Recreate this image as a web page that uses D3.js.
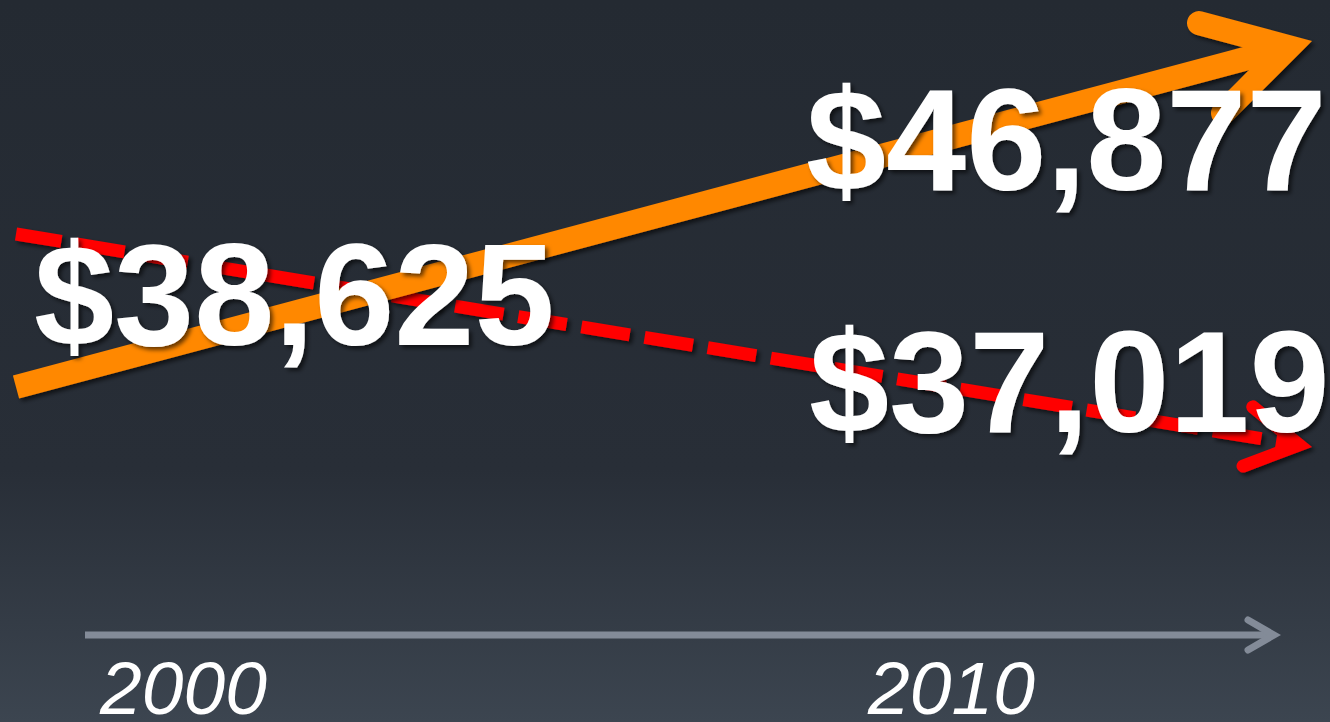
<!DOCTYPE html>
<html>
<head>
<meta charset="utf-8">
<script src="https://cdn.jsdelivr.net/npm/d3@7"></script>
<style>
  html, body { margin: 0; padding: 0; background: #252b33; }
  svg { display: block; }
</style>
</head>
<body>
<div id="chart"></div>
<script>
// values
var years = [2000, 2010];
var nominal = [38625, 46877];   // orange, solid
var real = [38625, 37019];      // red, dashed
var labels = ["$38,625", "$46,877", "$37,019"];
var yearLabels = ["2000", "2010"];

var width = 1330,
    height = 722;

var svg = d3.select("#chart").append("svg")
  .attr("width", width)
  .attr("height", height);

var defs = svg.append("defs");

var grad = defs.append("linearGradient")
  .attr("id", "bg")
  .attr("x1", 0).attr("y1", 0)
  .attr("x2", 0).attr("y2", 1);
grad.append("stop").attr("offset", "0%").attr("stop-color", "#242a32");
grad.append("stop").attr("offset", "65%").attr("stop-color", "#282e37");
grad.append("stop").attr("offset", "100%").attr("stop-color", "#3c4550");

var shadow = defs.append("filter")
  .attr("id", "shadow")
  .attr("x", "-10%").attr("y", "-20%")
  .attr("width", "130%").attr("height", "150%");
shadow.append("feDropShadow")
  .attr("dx", 3).attr("dy", 3)
  .attr("stdDeviation", 2)
  .attr("flood-color", "#000")
  .attr("flood-opacity", 0.6);

svg.append("rect")
  .attr("width", width)
  .attr("height", height)
  .attr("fill", "url(#bg)");

// the two trends are drawn illustratively, each on its own scale
var xScale = d3.scaleLinear()
  .domain(d3.extent(years))
  .range([16, 1312]);

var yNominal = d3.scaleLinear()
  .domain([nominal[0], nominal[1]])
  .range([387, 41]);

var yReal = d3.scaleLinear()
  .domain([real[0], real[1]])
  .range([234, 447]);

var SPREAD = 30 * Math.PI / 180;

// centre of the arrow tip, pulled back so the mitred point lands on the data point
var tipCentre = function(x0, y0, x1, y1, w) {
  var d = Math.hypot(x1 - x0, y1 - y0);
  var back = (w / 2) / Math.sin(SPREAD);
  return [x1 - (x1 - x0) / d * back, y1 - (y1 - y0) / d * back];
};

// open arrowhead (two wings meeting at the tip)
var arrowHead = function(x0, y0, x1, y1, w, len) {
  var t = tipCentre(x0, y0, x1, y1, w);
  var ang = Math.atan2(y0 - y1, x0 - x1);
  var a = [t[0] + len * Math.cos(ang + SPREAD), t[1] + len * Math.sin(ang + SPREAD)];
  var b = [t[0] + len * Math.cos(ang - SPREAD), t[1] + len * Math.sin(ang - SPREAD)];
  return "M" + a[0] + "," + a[1] + "L" + t[0] + "," + t[1] + "L" + b[0] + "," + b[1];
};

var shaft = function(x0, y0, x1, y1, w) {
  var t = tipCentre(x0, y0, x1, y1, w);
  var d = Math.hypot(x1 - x0, y1 - y0);
  return [[x0, y0], [t[0] - (x1 - x0) / d * w * 0.5, t[1] - (y1 - y0) / d * w * 0.5]];
};

var drawTrend = function(values, yScale, color, w, len, dash, offset) {
  var g = svg.append("g").attr("filter", "url(#shadow)");
  var pts = years.map(function(yr, i) { return [xScale(yr), yScale(values[i])]; });
  var p0 = pts[0], p1 = pts[pts.length - 1];
  g.append("path")
    .attr("d", d3.line()(shaft(p0[0], p0[1], p1[0], p1[1], w)))
    .attr("fill", "none")
    .attr("stroke", color)
    .attr("stroke-width", w)
    .attr("stroke-linecap", "butt")
    .attr("stroke-dasharray", dash)
    .attr("stroke-dashoffset", offset);
  g.append("path")
    .attr("d", arrowHead(p0[0], p0[1], p1[0], p1[1], w, len))
    .attr("fill", "none")
    .attr("stroke", color)
    .attr("stroke-width", w)
    .attr("stroke-linecap", "round")
    .attr("stroke-linejoin", "miter")
    .attr("stroke-miterlimit", 10);
};

drawTrend(real, yReal, "#ff0000", 13, 60, "49,15", 3);
drawTrend(nominal, yNominal, "#ff8800", 24, 93, null, 0);

// time axis
var axisX = d3.scaleLinear()
  .domain(d3.extent(years))
  .range([85, 1281]);
var axisY = 635;
var axisG = svg.append("g");
axisG.append("path")
  .attr("d", d3.line()(shaft(axisX(years[0]), axisY, axisX(years[1]), axisY, 7)))
  .attr("stroke", "#838b98")
  .attr("stroke-width", 7);
axisG.append("path")
  .attr("d", arrowHead(axisX(years[0]), axisY, axisX(years[1]), axisY, 7, 30))
  .attr("fill", "none")
  .attr("stroke", "#838b98")
  .attr("stroke-width", 7)
  .attr("stroke-linecap", "round")
  .attr("stroke-linejoin", "miter");

var yearX = d3.scaleOrdinal()
  .domain(yearLabels)
  .range([100, 868]);

svg.selectAll(".year")
  .data(yearLabels)
  .enter().append("text")
  .attr("class", "year")
  .attr("x", function(d) { return yearX(d); })
  .attr("y", 714)
  .style("font-family", "'Liberation Sans', Arial, sans-serif")
  .style("font-style", "italic")
  .style("font-size", "75px")
  .style("fill", "#ffffff")
  .text(function(d) { return d; });

// value labels
var labelPos = [
  { x: 34, y: 345 },
  { x: 806, y: 190 },
  { x: 809, y: 432 }
];

svg.selectAll(".value")
  .data(labels)
  .enter().append("text")
  .attr("class", "value")
  .attr("x", function(d, i) { return labelPos[i].x; })
  .attr("y", function(d, i) { return labelPos[i].y; })
  .attr("filter", "url(#shadow)")
  .style("font-family", "'Liberation Sans', Arial, sans-serif")
  .style("font-weight", "bold")
  .style("font-size", "144px")
  .style("fill", "#ffffff")
  .text(function(d) { return d; });
</script>
</body>
</html>
